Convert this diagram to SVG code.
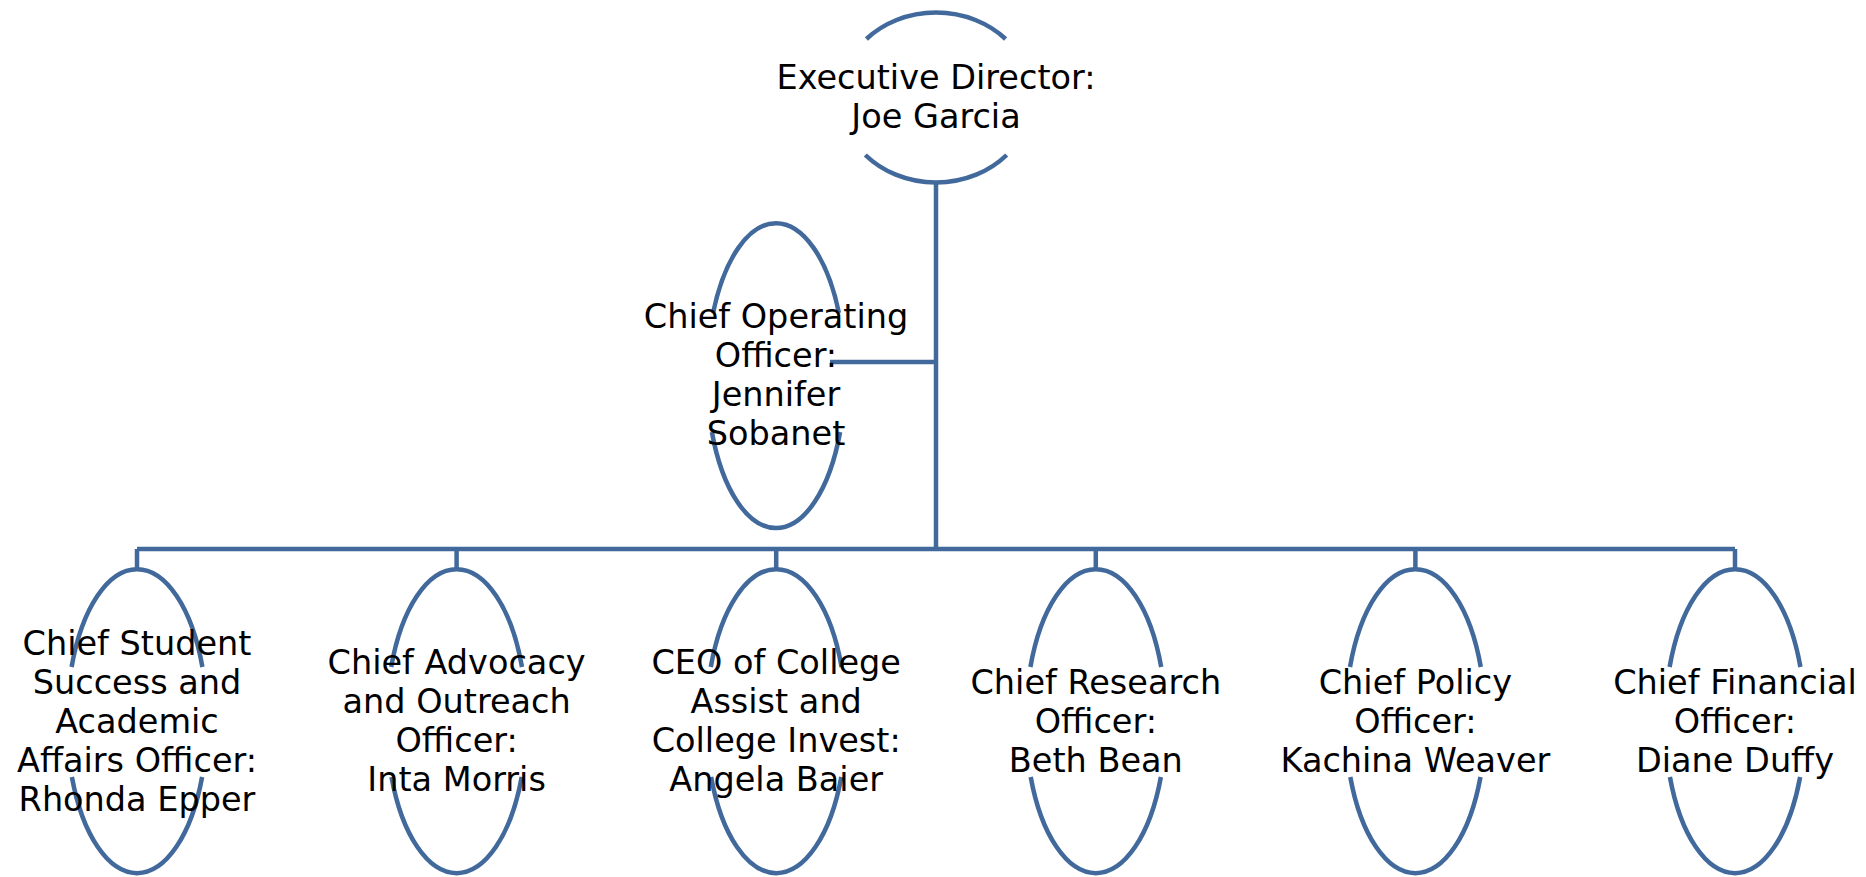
<svg xmlns="http://www.w3.org/2000/svg" width="1866" height="877" viewBox="0 0 1866 877">
<style>
.shape{fill:none;stroke:#41699C;stroke-width:4.5}
.conn{fill:none;stroke:#41699C;stroke-width:4.5}
.lbl{font-family:"DejaVu Sans","Liberation Sans",sans-serif;font-size:33.5px;fill:#000;text-anchor:middle}
</style>
<rect width="1866" height="877" fill="#fff"/>
<g id="connectors">
<path class="conn" d="M936 182V549M936 362H830M137 549H1735M137 549V569M456.6 549V569M776.2 549V569M1095.8 549V569M1415.4 549V569M1735 549V569"/>
</g>
<g id="exec">
<path class="shape" d="M866.4 39A96 85 0 0 1 1005.6 39M865.3 155A96 85 0 0 0 1006.7 155"/>
<text class="lbl"><tspan x="936" y="89">Executive Director:</tspan><tspan x="936" y="128">Joe Garcia</tspan></text>
</g>
<g id="coo">
<path class="shape" d="M713.1 313A69 152.5 0 0 1 838.9 313M711.9 432A69 152.5 0 0 0 840.1 432"/>
<text class="lbl"><tspan x="776" y="328">Chief Operating</tspan><tspan x="776" y="367">Officer:</tspan><tspan x="776" y="406">Jennifer</tspan><tspan x="776" y="445">Sobanet</tspan></text>
</g>
<g id="student">
<path class="shape" d="M71.6 667A70 152 0 0 1 202.4 667M71.9 777A70 152 0 0 0 202.1 777"/>
<text class="lbl"><tspan x="137" y="655">Chief Student</tspan><tspan x="137" y="694">Success and</tspan><tspan x="137" y="733">Academic</tspan><tspan x="137" y="772">Affairs Officer:</tspan><tspan x="137" y="811">Rhonda Epper</tspan></text>
</g>
<g id="advocacy">
<path class="shape" d="M391.2 667A70 152 0 0 1 522 667M391.5 777A70 152 0 0 0 521.7 777"/>
<text class="lbl"><tspan x="456.6" y="674">Chief Advocacy</tspan><tspan x="456.6" y="713">and Outreach</tspan><tspan x="456.6" y="752">Officer:</tspan><tspan x="456.6" y="791">Inta Morris</tspan></text>
</g>
<g id="ceo">
<path class="shape" d="M710.8 667A70 152 0 0 1 841.6 667M711.1 777A70 152 0 0 0 841.3 777"/>
<text class="lbl"><tspan x="776.2" y="674">CEO of College</tspan><tspan x="776.2" y="713">Assist and</tspan><tspan x="776.2" y="752">College Invest:</tspan><tspan x="776.2" y="791">Angela Baier</tspan></text>
</g>
<g id="research">
<path class="shape" d="M1030.4 667A70 152 0 0 1 1161.2 667M1030.7 777A70 152 0 0 0 1160.9 777"/>
<text class="lbl"><tspan x="1095.8" y="694">Chief Research</tspan><tspan x="1095.8" y="733">Officer:</tspan><tspan x="1095.8" y="772">Beth Bean</tspan></text>
</g>
<g id="policy">
<path class="shape" d="M1350 667A70 152 0 0 1 1480.8 667M1350.3 777A70 152 0 0 0 1480.5 777"/>
<text class="lbl"><tspan x="1415.4" y="694">Chief Policy</tspan><tspan x="1415.4" y="733">Officer:</tspan><tspan x="1415.4" y="772">Kachina Weaver</tspan></text>
</g>
<g id="financial">
<path class="shape" d="M1669.6 667A70 152 0 0 1 1800.4 667M1669.9 777A70 152 0 0 0 1800.1 777"/>
<text class="lbl"><tspan x="1735" y="694">Chief Financial</tspan><tspan x="1735" y="733">Officer:</tspan><tspan x="1735" y="772">Diane Duffy</tspan></text>
</g>
</svg>
